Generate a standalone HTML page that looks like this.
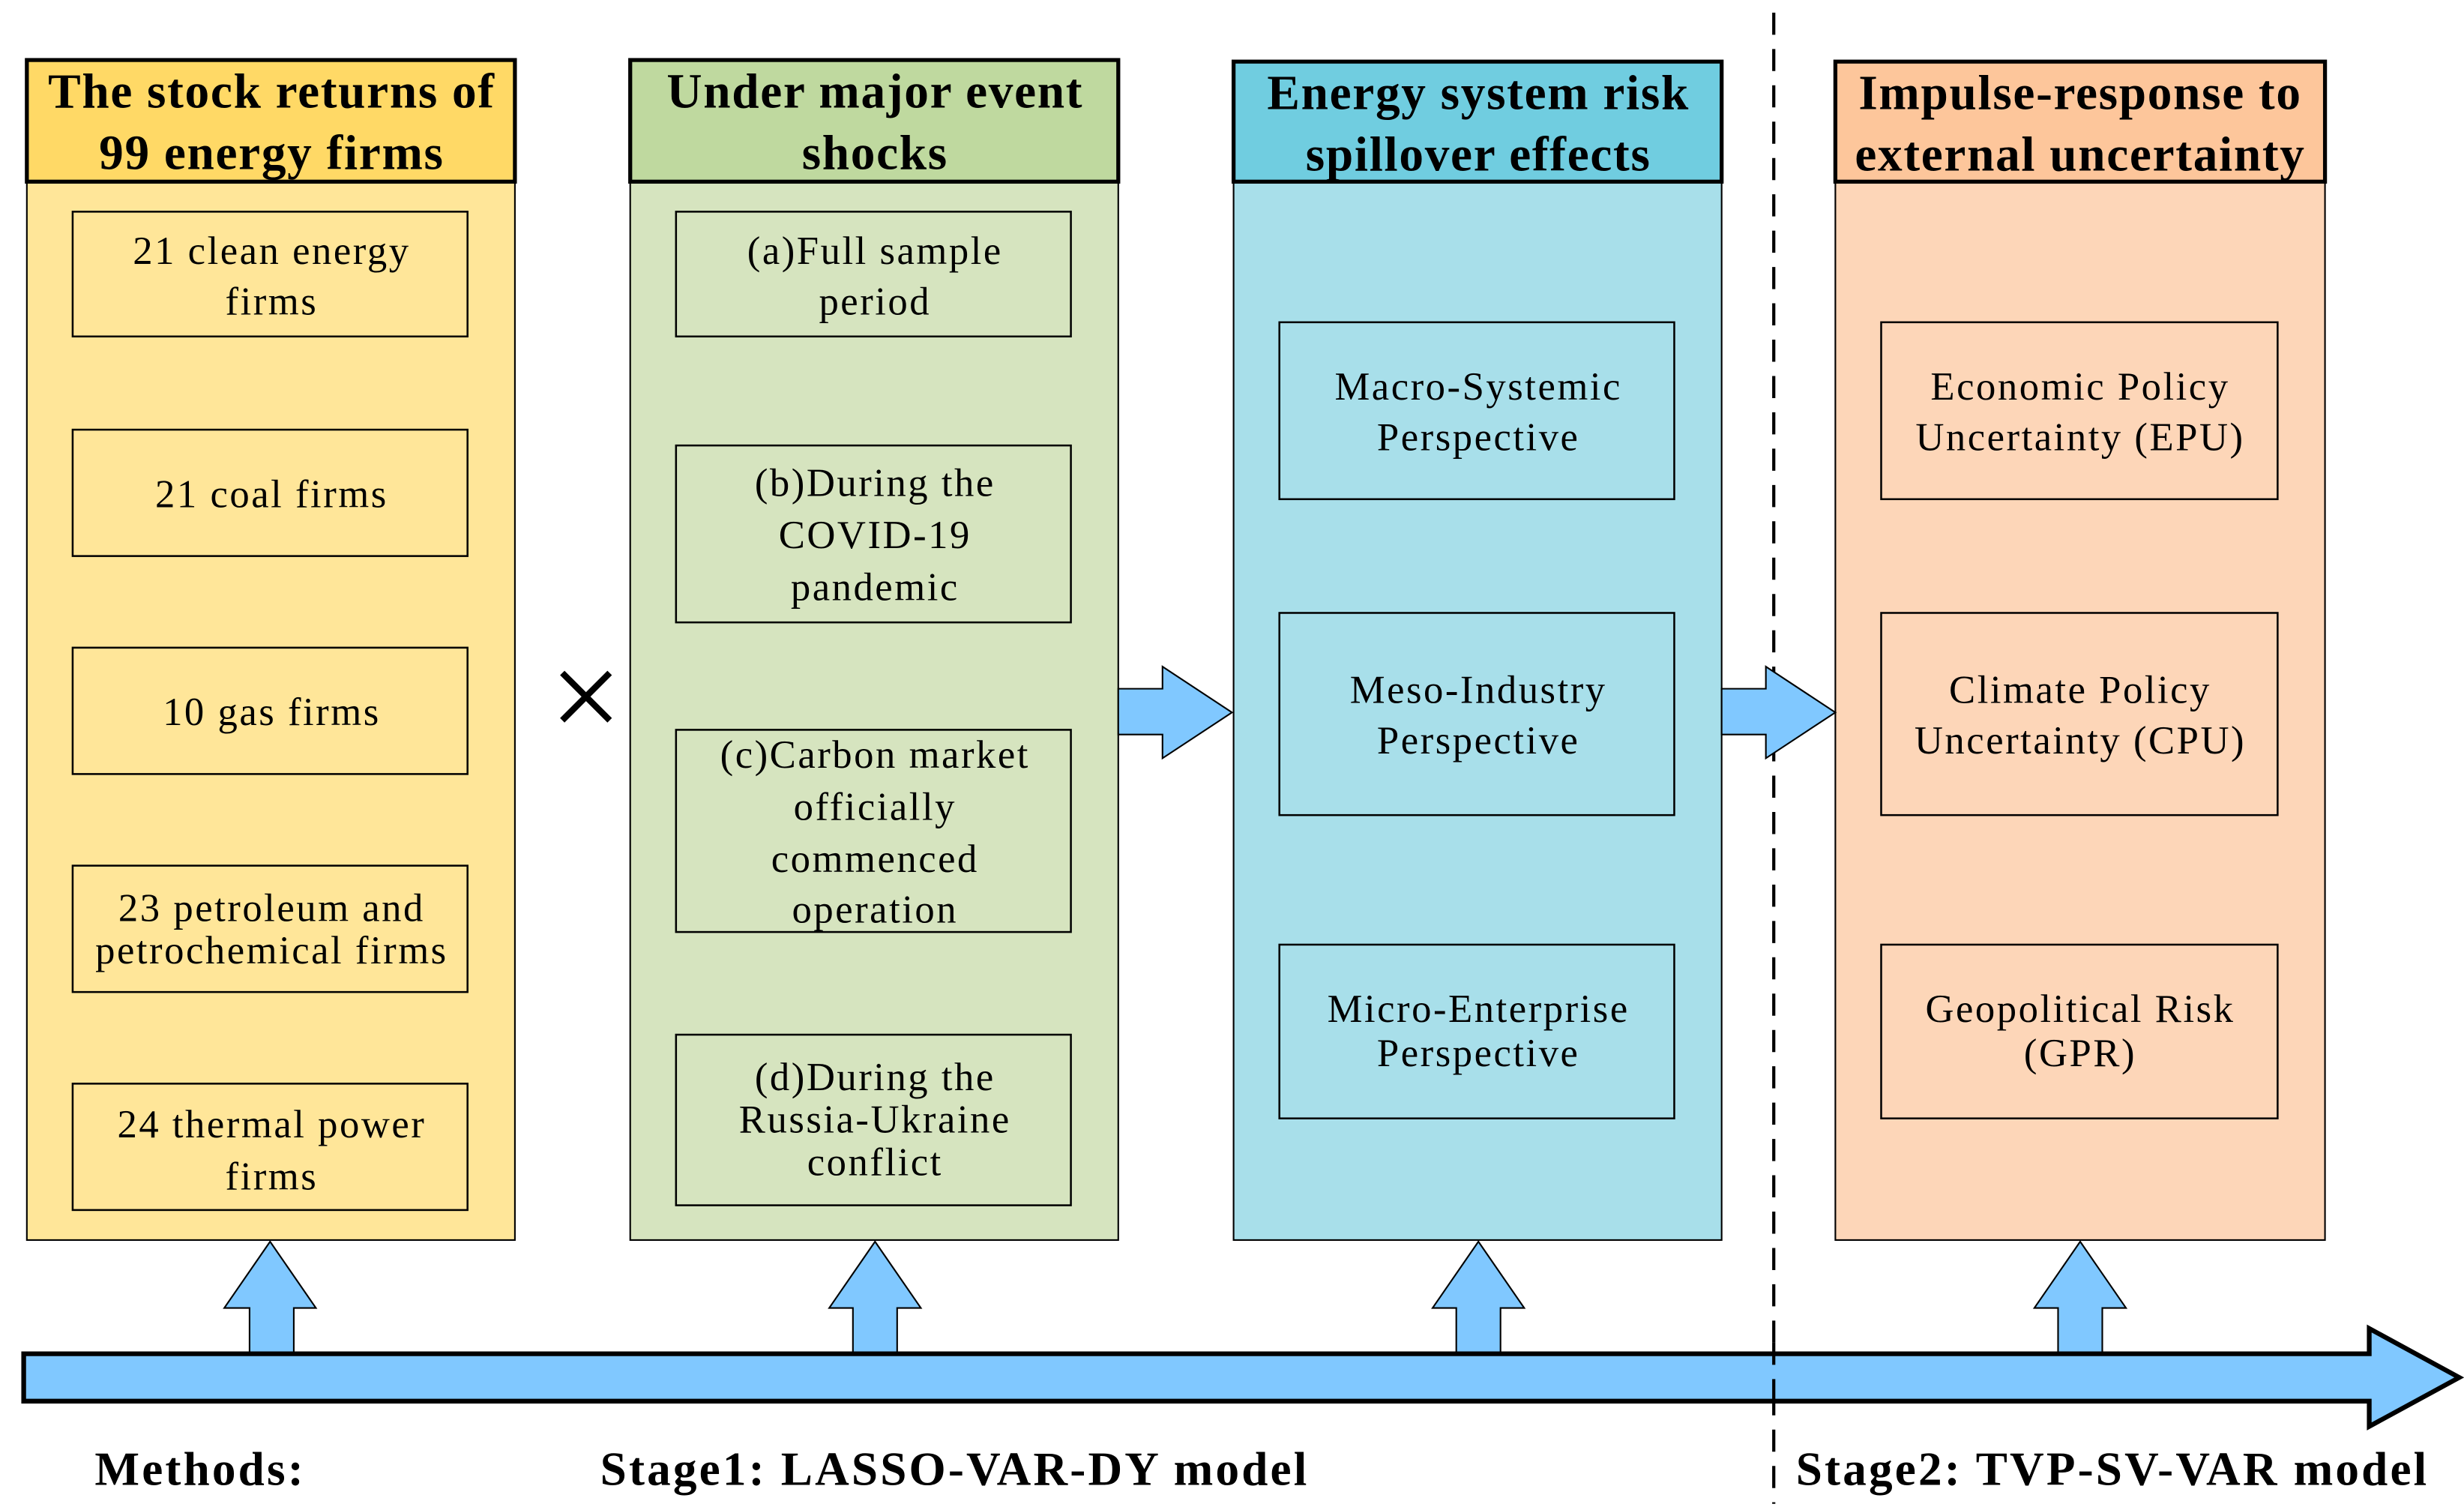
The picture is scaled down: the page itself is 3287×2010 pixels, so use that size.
<!DOCTYPE html>
<html><head><meta charset="utf-8"><style>
html,body{margin:0;padding:0;background:#fff;}
svg{display:block;}
text{font-family:"Liberation Serif",serif;fill:#000;}
.h{font-weight:bold;font-size:31px;letter-spacing:0.8px;text-anchor:middle;}
.t{font-size:25px;letter-spacing:1.2px;text-anchor:middle;}
.b{font-weight:bold;font-size:30px;letter-spacing:1.5px;}
</style></head><body>
<svg width="3287" height="2010" viewBox="0 0 1560 954" preserveAspectRatio="none" xmlns="http://www.w3.org/2000/svg">
<rect width="1560" height="954" fill="#fff"/>
<line x1="1123" y1="8" x2="1123" y2="952" stroke="#000" stroke-width="2" stroke-dasharray="14,9"/>
<rect x="17" y="115" width="309" height="670" fill="#FFE699" stroke="#000" stroke-width="1"/>
<rect x="17" y="38" width="309" height="77" fill="#FFD966" stroke="#000" stroke-width="2.5"/>
<rect x="399" y="115" width="309" height="670" fill="#D6E4BF" stroke="#000" stroke-width="1"/>
<rect x="399" y="38" width="309" height="77" fill="#BFD99F" stroke="#000" stroke-width="2.5"/>
<rect x="781" y="115" width="309" height="670" fill="#A8DFEA" stroke="#000" stroke-width="1"/>
<rect x="781" y="39" width="309" height="76" fill="#70CDE0" stroke="#000" stroke-width="2.5"/>
<rect x="1162" y="115" width="310" height="670" fill="#FDD6B8" stroke="#000" stroke-width="1"/>
<rect x="1162" y="39" width="310" height="76" fill="#FDC69B" stroke="#000" stroke-width="2.5"/>
<text class="h" x="172" y="68">The stock returns of</text>
<text class="h" x="172" y="107">99 energy firms</text>
<text class="h" x="554" y="68">Under major event</text>
<text class="h" x="554" y="107">shocks</text>
<text class="h" x="936" y="69">Energy system risk</text>
<text class="h" x="936" y="108">spillover effects</text>
<text class="h" x="1317" y="69">Impulse-response to</text>
<text class="h" x="1317" y="108">external uncertainty</text>
<g fill="none" stroke="#000" stroke-width="1.2">
<rect x="46" y="134" width="250" height="79"/>
<rect x="46" y="272" width="250" height="80"/>
<rect x="46" y="410" width="250" height="80"/>
<rect x="46" y="548" width="250" height="80"/>
<rect x="46" y="686" width="250" height="80"/>
<rect x="428" y="134" width="250" height="79"/>
<rect x="428" y="282" width="250" height="112"/>
<rect x="428" y="462" width="250" height="128"/>
<rect x="428" y="655" width="250" height="108"/>
<rect x="810" y="204" width="250" height="112"/>
<rect x="810" y="388" width="250" height="128"/>
<rect x="810" y="598" width="250" height="110"/>
<rect x="1191" y="204" width="251" height="112"/>
<rect x="1191" y="388" width="251" height="128"/>
<rect x="1191" y="598" width="251" height="110"/>
</g>
<text class="t" x="172" y="167">21 clean energy</text>
<text class="t" x="172" y="199">firms</text>
<text class="t" x="172" y="321">21 coal  firms</text>
<text class="t" x="172" y="459">10 gas  firms</text>
<text class="t" x="172" y="583">23 petroleum and</text>
<text class="t" x="172" y="610">petrochemical  firms</text>
<text class="t" x="172" y="720">24 thermal power</text>
<text class="t" x="172" y="753">firms</text>
<text class="t" x="554" y="167">(a)Full sample</text>
<text class="t" x="554" y="199">period</text>
<text class="t" x="554" y="314">(b)During the</text>
<text class="t" x="554" y="347">COVID-19</text>
<text class="t" x="554" y="380">pandemic</text>
<text class="t" x="554" y="486">(c)Carbon market</text>
<text class="t" x="554" y="519">officially</text>
<text class="t" x="554" y="552">commenced</text>
<text class="t" x="554" y="584">operation</text>
<text class="t" x="554" y="690">(d)During the</text>
<text class="t" x="554" y="717">Russia-Ukraine</text>
<text class="t" x="554" y="744">conflict</text>
<text class="t" x="936" y="253">Macro-Systemic</text>
<text class="t" x="936" y="285">Perspective</text>
<text class="t" x="936" y="445">Meso-Industry</text>
<text class="t" x="936" y="477">Perspective</text>
<text class="t" x="936" y="647">Micro-Enterprise</text>
<text class="t" x="936" y="675">Perspective</text>
<text class="t" x="1317" y="253">Economic Policy</text>
<text class="t" x="1317" y="285">Uncertainty (EPU)</text>
<text class="t" x="1317" y="445">Climate Policy</text>
<text class="t" x="1317" y="477">Uncertainty (CPU)</text>
<text class="t" x="1317" y="647">Geopolitical Risk</text>
<text class="t" x="1317" y="675">(GPR)</text>
<path d="M356 426 L386 456 M386 426 L356 456" stroke="#000" stroke-width="4" fill="none"/>
<g fill="#80C8FF" stroke="#000" stroke-width="1">
<path d="M708 436 L736 436 L736 422 L780 451 L736 480 L736 465 L708 465 Z"/>
<path d="M1090 436 L1118 436 L1118 422 L1162 451 L1118 480 L1118 465 L1090 465 Z"/>
<path d="M158 857 L158 828 L142 828 L171 786 L200 828 L186 828 L186 857 Z"/>
<path d="M540 857 L540 828 L525 828 L554 786 L583 828 L568 828 L568 857 Z"/>
<path d="M922 857 L922 828 L907 828 L936 786 L965 828 L950 828 L950 857 Z"/>
<path d="M1303 857 L1303 828 L1288 828 L1317 786 L1346 828 L1331 828 L1331 857 Z"/>
</g>
<path d="M15 857 L1500 857 L1500 841 L1557 872 L1500 903 L1500 887 L15 887 Z" fill="#80C8FF" stroke="#000" stroke-width="3"/>
<line x1="1123" y1="850" x2="1123" y2="895" stroke="#000" stroke-width="2" stroke-dasharray="14,9"/>
<text class="b" x="60" y="940">Methods:</text>
<text class="b" x="380" y="940">Stage1: LASSO-VAR-DY model</text>
<text class="b" x="1137" y="940">Stage2: TVP-SV-VAR model</text>
</svg>
</body></html>
